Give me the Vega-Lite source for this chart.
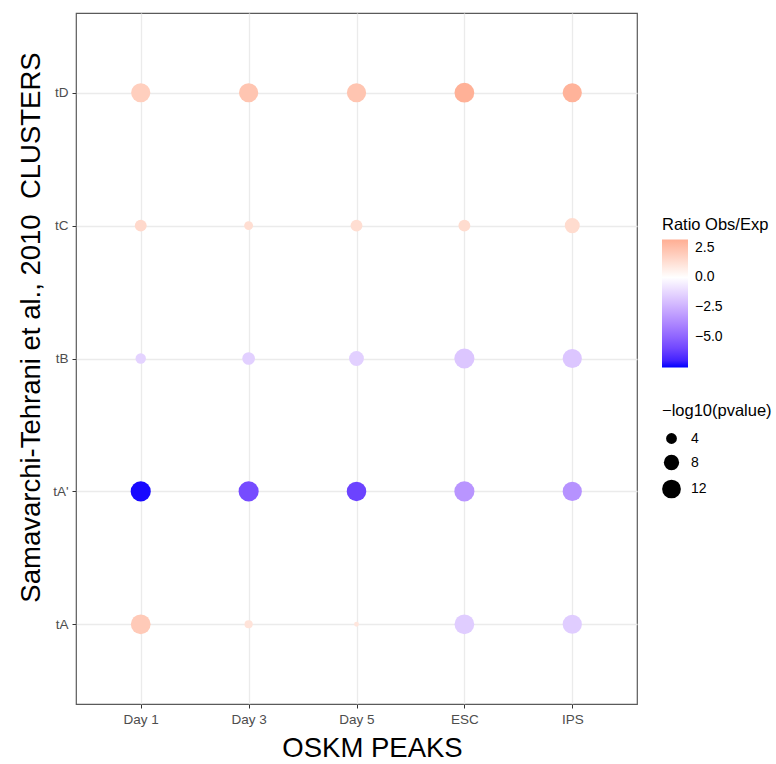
{
  "$schema": "https://vega.github.io/schema/vega-lite/v6.json",
  "width": 561,
  "height": 691,
  "autosize": {"type": "none"},
  "padding": {"left": 76, "top": 13, "right": 139, "bottom": 60},
  "background": "white",
  "config": {
    "font": "Liberation Sans",
    "view": {"stroke": "#5a5a5a", "strokeWidth": 1.2},
    "axis": {
      "domain": false,
      "grid": true,
      "gridColor": "#EBEBEB",
      "gridWidth": 1.3,
      "tickColor": "#333333",
      "tickSize": 4,
      "labelColor": "#4D4D4D",
      "labelFontSize": 13.5,
      "labelFont": "Liberation Sans",
      "titleFont": "Liberation Sans",
      "titleFontWeight": "normal",
      "titleFontSize": 27.5,
      "titleColor": "#000000"
    },
    "legend": {
      "titleFont": "Liberation Sans",
      "titleFontWeight": "normal",
      "titleFontSize": 16.5,
      "titleColor": "#000000",
      "labelFont": "Liberation Sans",
      "labelFontSize": 14,
      "labelColor": "#000000"
    }
  },
  "data": {
    "values": [
      {"peak": "Day 1", "cluster": "tA", "ratio": 2.1, "pval": 13.3},
      {"peak": "Day 1", "cluster": "tA'", "ratio": -7.5, "pval": 13.8},
      {"peak": "Day 1", "cluster": "tB", "ratio": -1.4, "pval": 3.7},
      {"peak": "Day 1", "cluster": "tC", "ratio": 1.5, "pval": 4.8},
      {"peak": "Day 1", "cluster": "tD", "ratio": 1.9, "pval": 12.6},
      {"peak": "Day 3", "cluster": "tA", "ratio": 1.1, "pval": 2.3},
      {"peak": "Day 3", "cluster": "tA'", "ratio": -5.8, "pval": 13.8},
      {"peak": "Day 3", "cluster": "tB", "ratio": -1.5, "pval": 5.5},
      {"peak": "Day 3", "cluster": "tC", "ratio": 1.3, "pval": 2.7},
      {"peak": "Day 3", "cluster": "tD", "ratio": 2.3, "pval": 12.6},
      {"peak": "Day 5", "cluster": "tA", "ratio": 1.0, "pval": 0.8},
      {"peak": "Day 5", "cluster": "tA'", "ratio": -6.1, "pval": 13.0},
      {"peak": "Day 5", "cluster": "tB", "ratio": -1.5, "pval": 7.5},
      {"peak": "Day 5", "cluster": "tC", "ratio": 1.3, "pval": 4.8},
      {"peak": "Day 5", "cluster": "tD", "ratio": 2.3, "pval": 12.6},
      {"peak": "ESC", "cluster": "tA", "ratio": -1.6, "pval": 13.3},
      {"peak": "ESC", "cluster": "tA'", "ratio": -3.4, "pval": 13.8},
      {"peak": "ESC", "cluster": "tB", "ratio": -1.8, "pval": 13.8},
      {"peak": "ESC", "cluster": "tC", "ratio": 1.4, "pval": 4.8},
      {"peak": "ESC", "cluster": "tD", "ratio": 3.1, "pval": 13.3},
      {"peak": "IPS", "cluster": "tA", "ratio": -1.6, "pval": 12.6},
      {"peak": "IPS", "cluster": "tA'", "ratio": -3.5, "pval": 12.6},
      {"peak": "IPS", "cluster": "tB", "ratio": -1.8, "pval": 12.6},
      {"peak": "IPS", "cluster": "tC", "ratio": 1.4, "pval": 7.7},
      {"peak": "IPS", "cluster": "tD", "ratio": 3.0, "pval": 12.6}
    ]
  },
  "mark": {"type": "circle", "opacity": 1},
  "encoding": {
    "x": {
      "field": "peak",
      "type": "nominal",
      "sort": ["Day 1", "Day 3", "Day 5", "ESC", "IPS"],
      "scale": {"type": "point", "padding": 0.6},
      "axis": {
        "title": "OSKM PEAKS",
        "labelAngle": 0,
        "labelPadding": 4,
        "titleX": 296,
        "titleY": 44,
        "titleAlign": "center",
        "titleBaseline": "middle"
      }
    },
    "y": {
      "field": "cluster",
      "type": "nominal",
      "sort": ["tD", "tC", "tB", "tA'", "tA"],
      "scale": {"type": "point", "padding": 0.6},
      "axis": {
        "title": "Samavarchi-Tehrani et al., 2010 \u00a0CLUSTERS",
        "labelPadding": 4,
        "titleAngle": 270,
        "titleX": -45,
        "titleY": 314,
        "titleAlign": "center",
        "titleBaseline": "middle"
      }
    },
    "color": {
      "field": "ratio",
      "type": "quantitative",
      "scale": {
        "domain": [-7.6, 0, 3.2],
        "range": ["#0000FF", "#FFFFFF", "#FFAE94"],
        "interpolate": "lab"
      },
      "legend": {
        "title": "Ratio Obs/Exp",
        "orient": "none",
        "legendX": 586,
        "legendY": 204,
        "values": [2.5, 0, -2.5, -5],
        "format": ".1f",
        "gradientLength": 128,
        "gradientThickness": 26,
        "gradientStrokeWidth": 0,
        "titlePadding": 6,
        "labelOffset": 7,
        "padding": 0
      }
    },
    "size": {
      "field": "pval",
      "type": "quantitative",
      "scale": {"domain": [0, 14], "range": [0, 410]},
      "legend": {
        "title": "−log10(pvalue)",
        "orient": "none",
        "legendX": 586,
        "legendY": 390,
        "values": [4, 8, 12],
        "symbolFillColor": "#000000",
        "symbolStrokeWidth": 0,
        "symbolType": "circle",
        "rowPadding": 9,
        "titlePadding": 12,
        "labelOffset": 10,
        "padding": 0
      }
    }
  }
}
